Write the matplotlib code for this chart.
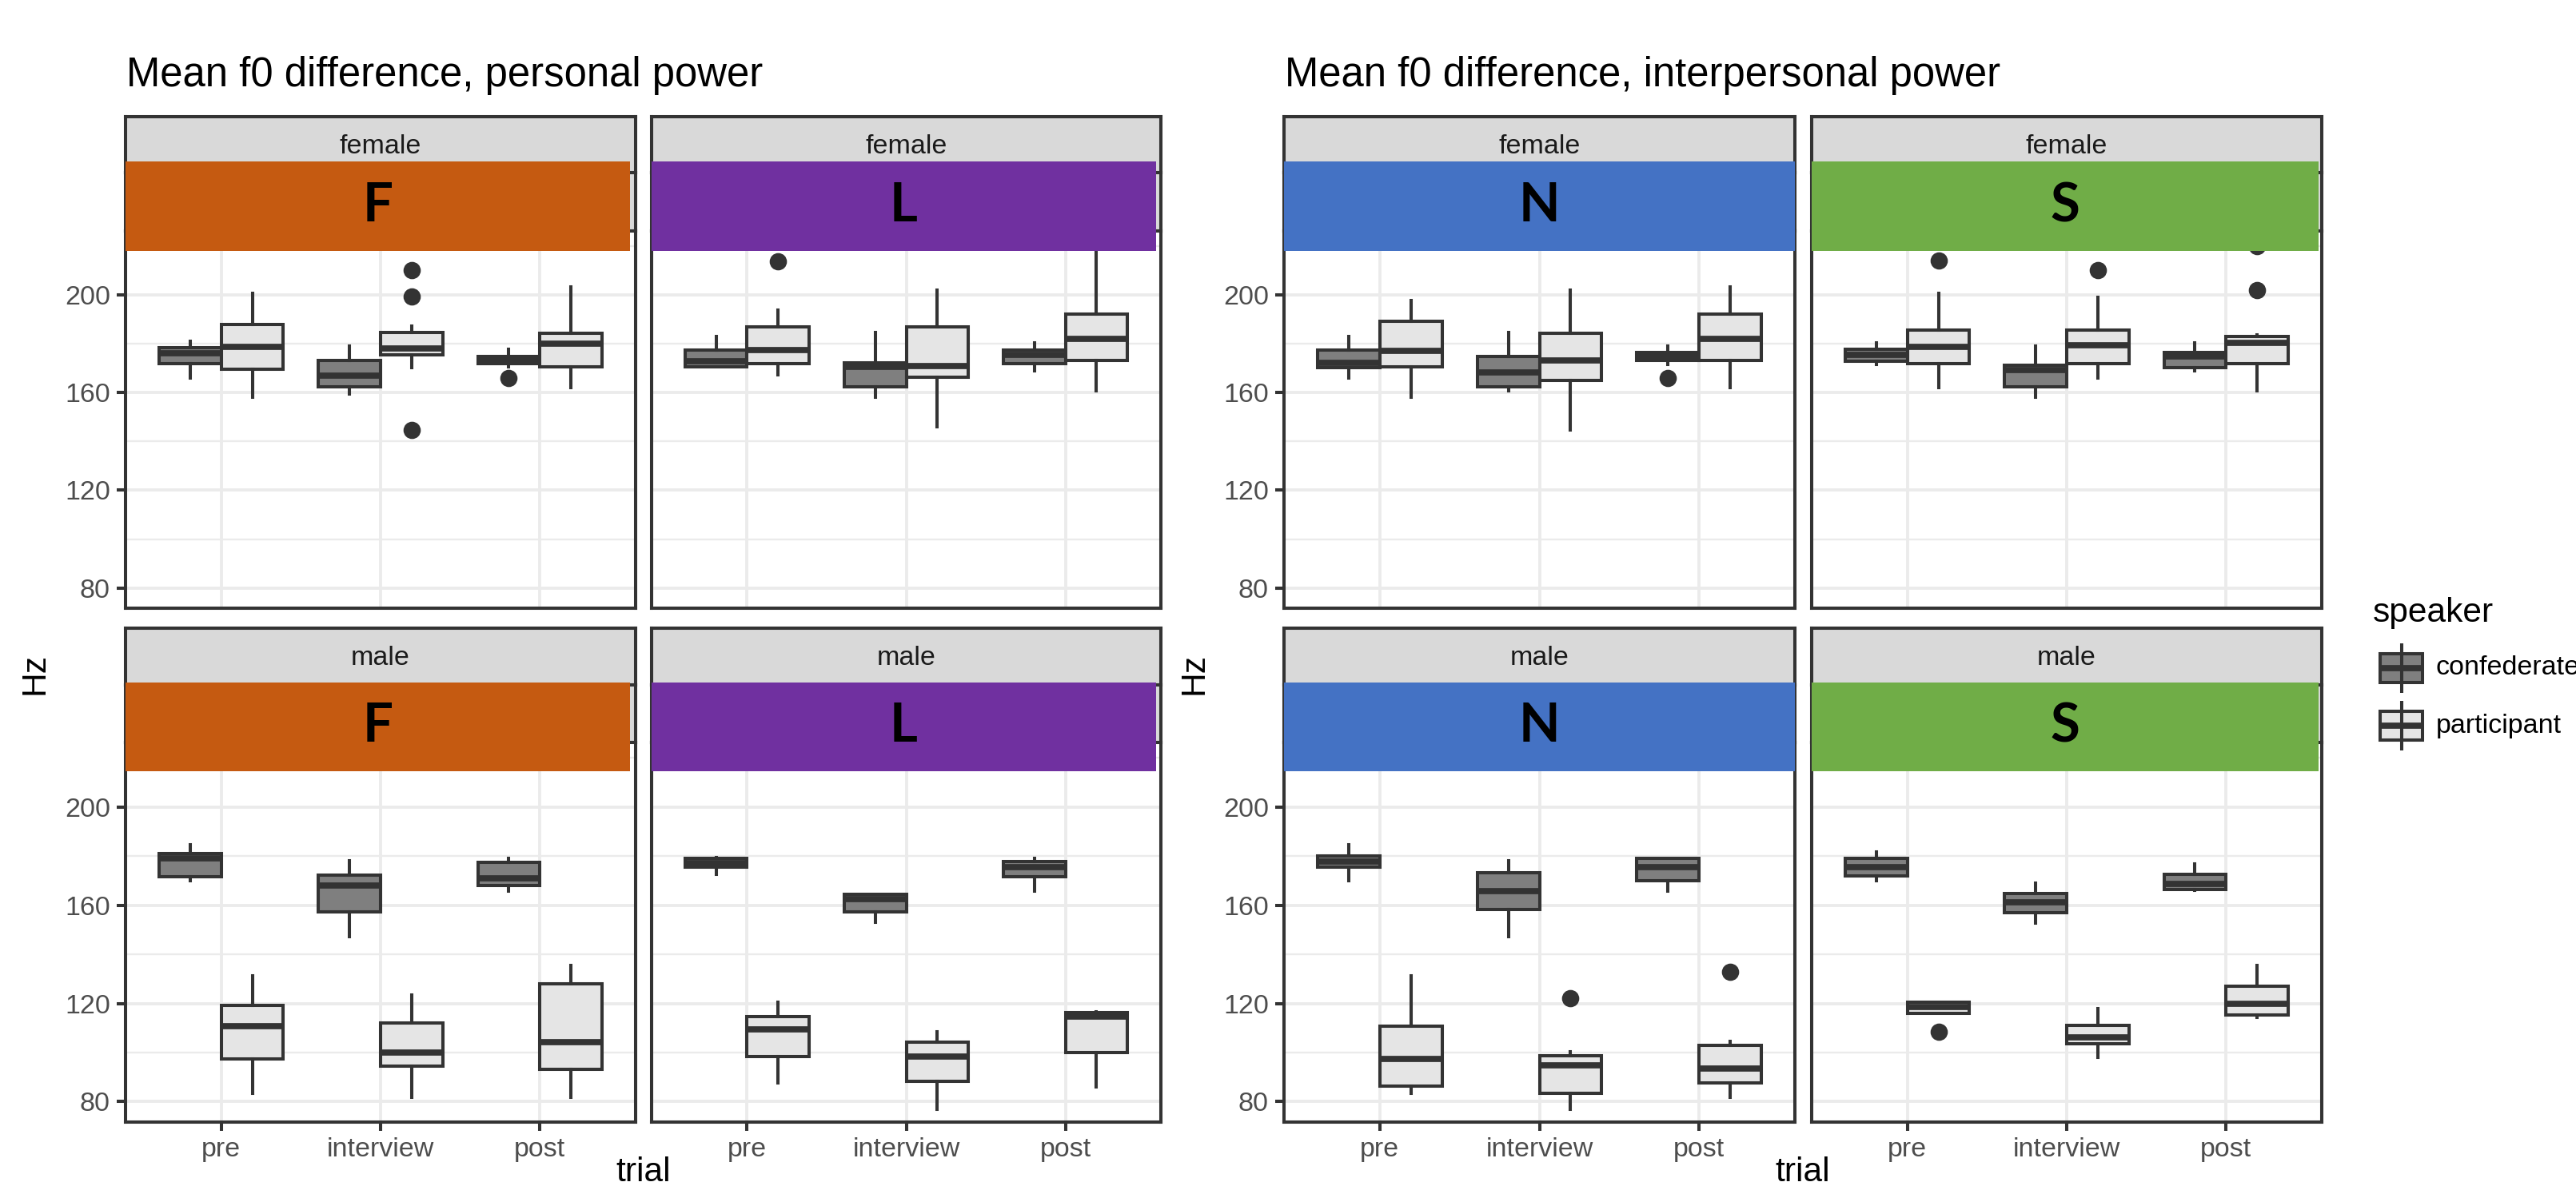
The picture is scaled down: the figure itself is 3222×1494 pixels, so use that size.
import matplotlib
matplotlib.use("Agg")
import matplotlib.pyplot as plt
from matplotlib.patches import Rectangle

# ---------------- data (Hz) : [whisker_lo, q1, median, q3, whisker_hi] per trial ----------------
trials = ["pre", "interview", "post"]
conditions = ["F", "L", "N", "S"]
speakers = ["confederate", "participant"]
genders = ["female", "male"]

F_female_conf = [[166, 172, 176, 178.5, 181], [159.3, 162.4, 167, 173.2, 179], [170.5, 171.9, 173.4, 174.8, 177.8]]
F_female_part = [[158, 169.6, 178.6, 188, 200.8], [170.2, 175.5, 178, 184.7, 187.3], [162, 170.6, 180, 184.4, 203.3]]
F_female_conf_out = [[], [], [165.9]]
F_female_part_out = [[], [210, 199.3, 144.7], []]

L_female_conf = [[170.4, 170.6, 173, 177.4, 183], [158, 162.4, 170.6, 172.2, 184.7], [168.9, 171.8, 175.5, 177.4, 180.5]]
L_female_part = [[167.2, 171.9, 177.3, 186.9, 193.8], [146, 166.3, 170.8, 186.9, 202], [160.7, 173.1, 182, 192.1, 221]]
L_female_conf_out = [[], [], []]
L_female_part_out = [[213.9], [], []]

N_female_conf = [[165.9, 170.2, 172.2, 177.4, 183], [160.7, 162.4, 168.3, 174.8, 184.7], [171.5, 173.2, 174.7, 176.5, 179]]
N_female_part = [[158, 170.6, 177.2, 189.2, 197.8], [144.7, 165, 173.2, 184.4, 202], [162, 173.1, 182, 192.1, 203.3]]
N_female_conf_out = [[], [], [165.9]]
N_female_part_out = [[], [], []]

S_female_conf = [[171.5, 172.9, 175.5, 177.7, 180.5], [158, 162.4, 169.2, 171.1, 179], [168.9, 170.2, 174.7, 176.5, 180.5]]
S_female_part = [[162, 171.9, 178.6, 185.7, 200.8], [165.9, 171.9, 179.3, 185.7, 199], [160.7, 171.9, 180.5, 183, 183.5]]
S_female_conf_out = [[], [], []]
S_female_part_out = [[214], [210], [202, 220]]

F_male_conf = [[169.9, 171.5, 179, 181, 184.6], [147.3, 157.1, 167.9, 172.3, 177.9], [165.8, 168, 171, 177.5, 179]]
F_male_part = [[83.3, 97.3, 110.7, 119.1, 131.2], [81.9, 94.6, 100, 112, 123.3], [81.9, 93.2, 104.1, 127.9, 135.4]]
F_male_conf_out = [[], [], []]
F_male_part_out = [[], [], []]

L_male_conf = [[172.6, 175.5, 177.2, 179, 179.3], [153, 157.1, 162.5, 164.3, 164.5], [165.8, 171.5, 175.6, 177.6, 179.1]]
L_male_part = [[87.5, 98.5, 109.3, 114.6, 120.6], [77, 88.3, 98.3, 104.1, 108.6], [86, 99.9, 114.6, 116.1, 116.5]]
L_male_conf_out = [[], [], []]
L_male_part_out = [[], [], []]

N_male_conf = [[169.9, 175.3, 177.7, 180.1, 184.6], [147.3, 158.3, 165.8, 173.3, 177.9], [165.8, 170, 175.6, 178.9, 179]]
N_male_part = [[83.3, 86.3, 97.3, 110.8, 131.2], [77, 83.4, 94.7, 98.8, 100.3], [81.9, 87.8, 93.4, 103, 104.4]]
N_male_conf_out = [[], [], []]
N_male_part_out = [[], [122.1], [132.7]]

S_male_conf = [[169.9, 172, 175.5, 179, 181.6], [152.7, 156.8, 161, 164.6, 168.8], [166, 166.2, 168.5, 172.6, 176.7]]
S_male_part = [[116, 116, 118.5, 120.5, 120.6], [98, 103.6, 106.3, 111.1, 117.9], [114.2, 115.4, 120, 127.1, 135.4]]
S_male_conf_out = [[], [], []]
S_male_part_out = [[108.6], [], []]

y_ticks = [80, 120, 160, 200]
y_minor = [100, 140, 180, 220]
y_limits = (71.7, 226.2)

titles = ["Mean f0 difference, personal power", "Mean f0 difference, interpersonal power"]
overlay_colors = {"F": "#C55A11", "L": "#7030A0", "N": "#4472C4", "S": "#70AD47"}
speaker_fill = {"confederate": "#7F7F7F", "participant": "#E5E5E5"}

DATA = {
    ("F", "female"): (F_female_conf, F_female_part, F_female_conf_out, F_female_part_out),
    ("L", "female"): (L_female_conf, L_female_part, L_female_conf_out, L_female_part_out),
    ("N", "female"): (N_female_conf, N_female_part, N_female_conf_out, N_female_part_out),
    ("S", "female"): (S_female_conf, S_female_part, S_female_conf_out, S_female_part_out),
    ("F", "male"): (F_male_conf, F_male_part, F_male_conf_out, F_male_part_out),
    ("L", "male"): (L_male_conf, L_male_part, L_male_conf_out, L_male_part_out),
    ("N", "male"): (N_male_conf, N_male_part, N_male_conf_out, N_male_part_out),
    ("S", "male"): (S_male_conf, S_male_part, S_male_conf_out, S_male_part_out),
}

# ---------------- layout ----------------
W, H = 3222, 1494
DPI = 278
plt.rcParams['font.family'] = ['Liberation Sans', 'DejaVu Sans']
fig = plt.figure(figsize=(W / DPI, H / DPI), dpi=DPI)
fig.patch.set_facecolor("white")

DARK = "#333333"
LW = 1.05
MED_LW = 2.0


def add_ax(x0, y0, x1, y1, **kw):
    return fig.add_axes([x0 / W, 1 - y1 / H, (x1 - x0) / W, (y1 - y0) / H], **kw)


panel_x = {"F": (157, 795), "L": (815, 1452), "N": (1606, 2245), "S": (2266, 2904)}
overlay_right = {"F": 788, "L": 1446, "N": 2245, "S": 2900}
rows = {
    "female": dict(s1=(146, 216), s2=(216, 289), panel=(289, 761), over=(202, 314)),
    "male": dict(s1=(786, 857), s2=(857, 929), panel=(929, 1404), over=(854, 965)),
}


def strip(x0, x1, y0, y1, label=None):
    a = add_ax(x0, y0, x1, y1)
    a.set_facecolor("#D9D9D9")
    a.set_xticks([]); a.set_yticks([])
    for s in a.spines.values():
        s.set_color(DARK); s.set_linewidth(LW)
    if label:
        a.text(0.5, 0.47, label, ha="center", va="center", fontsize=8.8, color="#1A1A1A",
               transform=a.transAxes)
    return a


off = 0.195
bw = 0.39
for cond in conditions:
    x0, x1 = panel_x[cond]
    for g in genders:
        r = rows[g]
        strip(x0, x1, r["s1"][0], r["s1"][1], g)
        strip(x0, x1, r["s2"][0], r["s2"][1])
        ax = add_ax(x0, r["panel"][0], x1, r["panel"][1])
        ax.set_xlim(0.4, 3.6)
        ax.set_ylim(*y_limits)
        ax.set_yticks(y_ticks)
        ax.set_yticks(y_minor, minor=True)
        ax.set_xticks([1, 2, 3])
        ax.grid(which="major", color="#EBEBEB", lw=1.0)
        ax.grid(which="minor", axis="y", color="#EBEBEB", lw=0.6)
        ax.set_axisbelow(True)
        for s in ax.spines.values():
            s.set_color(DARK); s.set_linewidth(LW)
        ax.tick_params(which="both", length=2.75, width=LW, color=DARK, labelsize=8.8,
                       labelcolor="#4D4D4D", pad=2.2)
        ax.tick_params(which="minor", length=0)
        if cond in ("F", "N"):
            ax.set_yticklabels([str(v) for v in y_ticks])
        else:
            ax.tick_params(axis="y", which="both", length=0, labelleft=False)
        if g == "male":
            ax.set_xticklabels(trials)
        else:
            ax.tick_params(axis="x", length=0, labelbottom=False)

        conf, part, conf_out, part_out = DATA[(cond, g)]
        for k, (vals, outs, sp) in enumerate([(conf, conf_out, "confederate"), (part, part_out, "participant")]):
            stats = []
            for i in range(3):
                lo, q1, med, q3, hi = vals[i]
                stats.append(dict(whislo=lo, q1=q1, med=med, q3=q3, whishi=hi, fliers=outs[i]))
            pos = [i + 1 + (-off if k == 0 else off) for i in range(3)]
            ax.bxp(stats, positions=pos, widths=bw, patch_artist=True, showcaps=False,
                   boxprops=dict(facecolor=speaker_fill[sp], edgecolor=DARK, linewidth=LW),
                   medianprops=dict(color=DARK, linewidth=MED_LW, solid_capstyle="butt"),
                   whiskerprops=dict(color=DARK, linewidth=LW),
                   flierprops=dict(marker="o", markerfacecolor=DARK, markeredgecolor=DARK,
                                   markersize=4.6),
                   manage_ticks=False)
        ax.set_xlim(0.4, 3.6)
        ax.set_ylim(*y_limits)

        # coloured overlay banner with letter
        oy0, oy1 = r["over"]
        ox1 = overlay_right[cond]
        fig.patches.append(Rectangle((x0 / W, 1 - oy1 / H), (ox1 - x0) / W, (oy1 - oy0) / H,
                                     transform=fig.transFigure, facecolor=overlay_colors[cond],
                                     edgecolor="none", zorder=10))
        fig.text((x0 + ox1) / 2 / W, 1 - (oy0 + oy1) / 2 / H, cond, ha="center", va="center",
                 fontsize=17.4, fontweight="bold", family=["Lato", "DejaVu Sans"], color="black",
                 zorder=11)

# titles
fig.text(158 / W, 1 - 108 / H, titles[0], ha="left", va="baseline", fontsize=13.2, color="black")
fig.text(1607 / W, 1 - 108 / H, titles[1], ha="left", va="baseline", fontsize=13.2, color="black")

# axis titles
for xc in (43, 1494):
    fig.text(xc / W, 1 - 843 / H, "Hz", rotation=90, ha="center", va="center", fontsize=11, color="black")
for xc in (805, 2255):
    fig.text(xc / W, 1 - 1447 / H, "trial", ha="center", va="top", fontsize=11, color="black")

# legend
fig.text(2968 / W, 1 - 767 / H, "speaker", ha="left", va="center", fontsize=11, color="black")
lax = add_ax(2960, 790, 3045, 960)
lax.set_xlim(2960, 3045)
lax.set_ylim(960, 790)
lax.axis("off")
key_centers = [836, 908]
for sp, yc in zip(speakers, key_centers):
    lax.plot([3003.5, 3003.5], [yc - 31, yc + 31], color=DARK, lw=LW, solid_capstyle="butt")
    lax.add_patch(Rectangle((2977, yc - 18), 53, 36, facecolor=speaker_fill[sp], edgecolor=DARK, lw=LW))
    lax.plot([2977, 3030], [yc, yc], color=DARK, lw=MED_LW, solid_capstyle="butt")
    fig.text(3047 / W, 1 - yc / H, sp, ha="left", va="center", fontsize=8.8, color="black")

fig.savefig("out.png", dpi=DPI, facecolor="white")
